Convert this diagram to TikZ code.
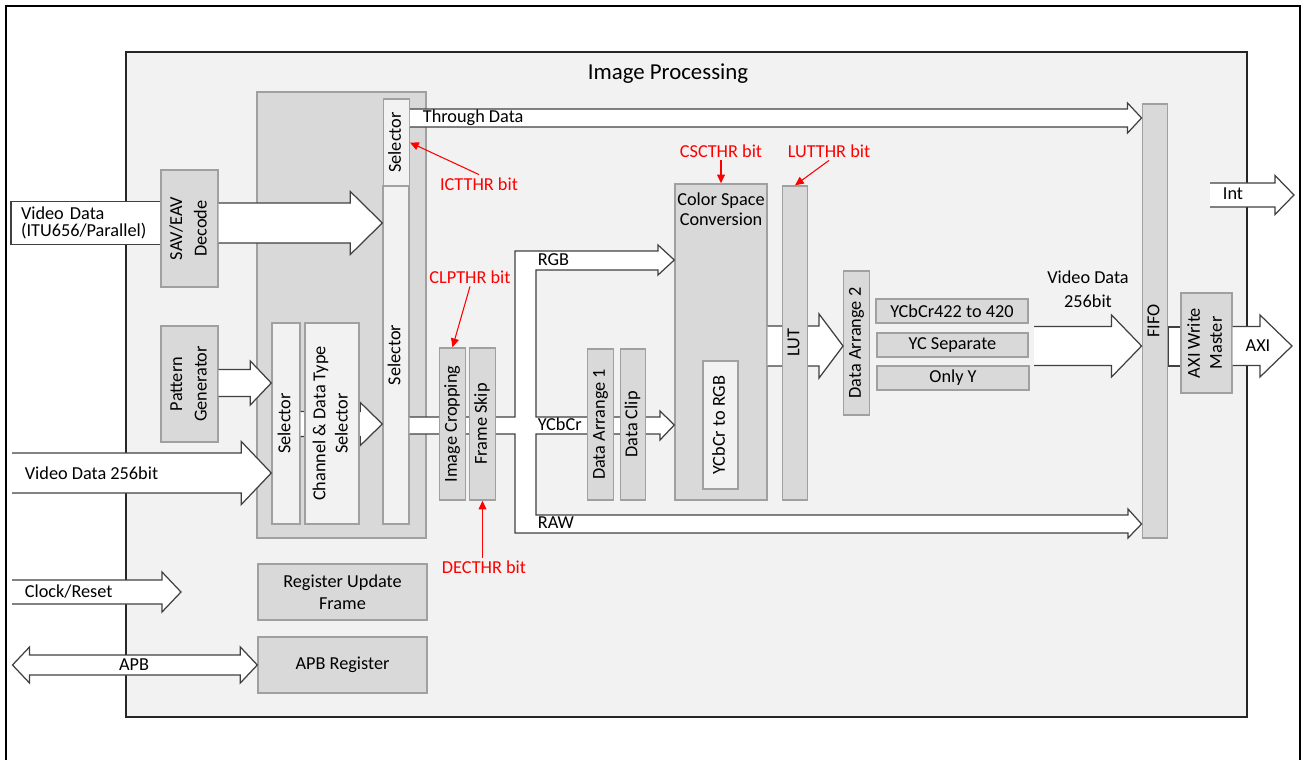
\documentclass[tikz,border=0pt]{standalone}
\usepackage{fontspec}
\setmainfont{Carlito}
\usepackage{graphicx}
\usetikzlibrary{arrows.meta,positioning,calc}
\definecolor{ipfill}{HTML}{F2F2F2}
\definecolor{blkfill}{HTML}{D9D9D9}
\definecolor{lightfill}{HTML}{F2F2F2}
\definecolor{blkline}{HTML}{A0A0A0}
\definecolor{arrline}{HTML}{404040}
\def\pxu{0.02cm}
\newcommand\vtext[1]{\rotatebox{90}{\begin{tabular}{@{}c@{}}#1\end{tabular}}}
\tikzset{
  blk/.style     = {rectangle, draw=blkline, line width=0.8pt, fill=#1,
                    inner sep=1pt, align=center},
  blk/.default   = blkfill,
  lightblk/.style= {blk=lightfill},
  boxsize/.style 2 args = {minimum width=#1*\pxu, minimum height=#2*\pxu},
  ipbox/.style   = {rectangle, draw=black!85, line width=1pt, fill=ipfill},
  busline/.style = {draw=arrline, fill=white, line width=0.7pt,
                    line join=miter},
  fatarrow/.style n args={3}{busline,
    to path={let \p1=(\tikztostart), \p2=(\tikztotarget) in
      (\x1,{\y2+#1*\pxu}) -- ({\x2-#3*\pxu},{\y2+#1*\pxu})
      -- ({\x2-#3*\pxu},{\y2+#2*\pxu}) -- (\x2,\y2)
      -- ({\x2-#3*\pxu},{\y2-#2*\pxu}) -- ({\x2-#3*\pxu},{\y2-#1*\pxu})
      -- (\x1,{\y2-#1*\pxu})}},
  dblarrow/.style n args={3}{busline,
    to path={let \p1=(\tikztostart), \p2=(\tikztotarget) in
      (\x1,\y2) -- ({\x1+#3*\pxu},{\y2+#2*\pxu})
      -- ({\x1+#3*\pxu},{\y2+#1*\pxu}) -- ({\x2-#3*\pxu},{\y2+#1*\pxu})
      -- ({\x2-#3*\pxu},{\y2+#2*\pxu}) -- (\x2,\y2)
      -- ({\x2-#3*\pxu},{\y2-#2*\pxu}) -- ({\x2-#3*\pxu},{\y2-#1*\pxu})
      -- ({\x1+#3*\pxu},{\y2-#1*\pxu}) -- ({\x1+#3*\pxu},{\y2-#2*\pxu})
      -- cycle}},
  redarr/.style  = {-{Triangle[length=5pt,width=4.5pt]}, red,
                    line width=0.6pt},
  redlbl/.style  = {text=red, inner sep=1.5pt},
  lbl/.style     = {inner sep=2pt},
}

\begin{document}
\begin{tikzpicture}[x=0.02cm, y=-0.02cm, font=\fontsize{10.4}{12.5}\selectfont]
  \useasboundingbox (0,0) rectangle (1302,760);

  %% ---- Frame ----
  \draw[line width=1.1pt] (6,760) -- (6,6) -- (1300,6) -- (1300,760);
  \node[ipbox, boxsize={1121}{665}] (ip) at (686.5,384.5) {};
  \node[font=\fontsize{13}{15}\selectfont] (iptitle) at (668,74)
        {Image Processing};
  \node[blk, boxsize={169}{446}] (grp) at (341.5,315) {};

  %% ---- Inputs ----
  \node[rectangle, draw=arrline, line width=0.7pt, fill=white,
        minimum height=40*\pxu, text width=2.6cm, inner xsep=0.2cm,
        align=left, font=\fontsize{10.4}{9.4}\selectfont]
        (vin) at (86,223) {Video Data\\(ITU656/Parallel)};
  \node[blk, boxsize={57}{117}, font=\fontsize{10.4}{14}\selectfont]
        (dec) at (189.5,228.5) {\vtext{SAV/EAV\\Decode}};
  \node[blk, boxsize={57}{116}, font=\fontsize{10.4}{14}\selectfont]
        (pgen) at (189.5,384) {\vtext{Pattern\\Generator}};

  %% ---- Selectors ----
  \node[lightblk, boxsize={25}{87}]  (selA) at (396.5,142.5) {\vtext{Selector}};
  \node[lightblk, boxsize={26}{338}] (selB) at (396,355)     {\vtext{Selector}};
  \node[lightblk, boxsize={28}{201}] (selC) at (286,423.5)   {\vtext{Selector}};

  \coordinate (vd256) at (12,473);
  \draw[fatarrow={20}{31.5}{32}] (dec.east)  to (selB.west |- 0,223);
  \draw[fatarrow={13.5}{22}{21}] (pgen.east) to (selC.west |- 0,383);
  \draw[fatarrow={20}{31.5}{30}] (vd256)     to (selC.west |- vd256);
  \draw[fatarrow={12.5}{21.5}{22}] (selC.east) to (selB.west |- 0,424);

  \node[lightblk, boxsize={54}{201}, font=\fontsize{10.4}{12.8}\selectfont]
        (chsel) at (332,423.5) {\vtext{Channel \& Data Type\\Selector}};

  %% ---- Processing column ----
  \node[blk, boxsize={92}{316},
        label={[lbl, align=center, anchor=north, yshift=-3.5pt,
                font=\fontsize{10.4}{11}\selectfont]north:{Color Space\\Conversion}}]
        (csc) at (721,342) {};
  \node[lightblk, boxsize={35}{128}] (yc2rgb) at (720.5,425) {\vtext{YCbCr to RGB}};
  \node[blk, boxsize={25}{144}] (da2)  at (856.5,343) {\vtext{Data Arrange 2}};
  \node[blk, boxsize={22}{434}] (fifo) at (1155,321)  {\vtext{FIFO}};

  \draw[fatarrow={20}{32}{24}] (csc.east) to (da2.west |- 0,346);
  \node[blk, boxsize={24}{314}] (lut) at (795,343) {\vtext{LUT}};

  %% ---- RGB / YCbCr / RAW bus ----
  \draw[busline] (selB.east |- 0,417) -- (515,417) -- (515,251)
        -- (658,251) -- (658,245) -- (csc.west |- 0,260) -- (658,275)
        -- (658,270) -- (536,270) -- (536,417) -- (660,417) -- (660,411)
        -- (csc.west |- 0,425) -- (660,440) -- (660,434) -- (536,434)
        -- (536,515) -- (1128,515) -- (1128,509) -- (fifo.west |- 0,524)
        -- (1128,538) -- (1128,533) -- (515,533) -- (515,434)
        -- (selB.east |- 0,434);

  \node[blk, boxsize={25}{152}] (crop)  at (452.5,424) {\vtext{Image Cropping}};
  \node[blk, boxsize={24}{152}] (fskip) at (482.5,424) {\vtext{Frame Skip}};
  \node[blk, boxsize={25}{151}] (da1)   at (600.5,424.5) {\vtext{Data Arrange 1}};
  \node[blk, boxsize={24}{151}] (dclip) at (633,424.5)   {\vtext{Data Clip}};

  \draw[fatarrow={9}{15}{14}] (selA.east |- 0,118) to (fifo.west |- 0,118);

  %% ---- Data arrange 2 modes ----
  \node[blk, boxsize={152}{24}] (y420)  at (952,311)   {YCbCr422 to 420};
  \node[blk, boxsize={151}{24}] (ycsep) at (952.5,345) {YC Separate};
  \node[blk, boxsize={152}{24}] (onlyy) at (953,378)   {Only Y};

  \coordinate (vdo) at (1034,346);
  \draw[fatarrow={19.5}{31}{30}] (vdo) to (fifo.west |- vdo);

  %% ---- Outputs ----
  \draw[busline] (fifo.east |- 0,327) rectangle (1181,366);
  \node[blk, boxsize={51}{100}, font=\fontsize{10.4}{12.5}\selectfont]
        (axim) at (1206.5,343) {\vtext{AXI Write\\Master}};
  \coordinate (axiout) at (1292,346);
  \draw[fatarrow={19.5}{31}{32}] (axim.east) to (axiout);
  \coordinate (intin)  at (1210,195);
  \coordinate (intout) at (1294,195);
  \draw[fatarrow={12}{19.5}{19}] (intin) to (intout);

  %% ---- Registers ----
  \node[blk, boxsize={169}{56}] (regupd) at (342.5,592) {Register Update\\Frame};
  \node[blk, boxsize={169}{56}] (apbreg) at (342.5,665) {APB Register};
  \coordinate (clkin)  at (12,592);
  \coordinate (clkout) at (181,592);
  \draw[fatarrow={12}{20}{19}] (clkin) to (clkout);
  \coordinate (apbin) at (12.5,665);
  \draw[dblarrow={10}{18}{17}] (apbin) to (apbreg.west);

  %% ---- Texts on arrows ----
  \node[lbl, anchor=west] (thrl)  at (419,118) {Through Data};
  \node[lbl, anchor=west] (rgbl)  at (534,260) {RGB};
  \node[lbl, anchor=west] (ycbl)  at (534,424) {YCbCr};
  \node[lbl, anchor=west] (rawl)  at (534,523) {RAW};
  \node[lbl, anchor=west] (vd256l) at (21,473) {Video Data 256bit};
  \node[lbl, anchor=west] (clkl)  at (21,592) {Clock/Reset};
  \node[lbl] (apbl) at (134,665)  {APB};
  \node[lbl] (intl) at (1233,194) {Int};
  \node[lbl] (axil) at (1258,346) {AXI};
  \node[lbl, align=center, font=\fontsize{10.4}{13.6}\selectfont]
        (vdol) at (1088,289) {Video Data\\256bit};

  %% ---- Control bits ----
  \node[redlbl] (ictl) at (479,184) {ICTTHR bit};
  \node[redlbl] (clpl) at (470,277) {CLPTHR bit};
  \node[redlbl] (cscl) at (721,151) {CSCTHR bit};
  \node[redlbl] (lutl) at (829,151) {LUTTHR bit};
  \node[redlbl] (decl) at (484,567) {DECTHR bit};
  \draw[redarr] (ictl.north) -- (selA.east);
  \draw[redarr] (clpl.south) -- (crop.north);
  \draw[redarr] (cscl.south) -- (csc.north);
  \draw[redarr] (lutl.south) -- (lut.north);
  \draw[redarr] (decl.north -| fskip.south) -- (fskip.south);

\end{tikzpicture}
\end{document}
